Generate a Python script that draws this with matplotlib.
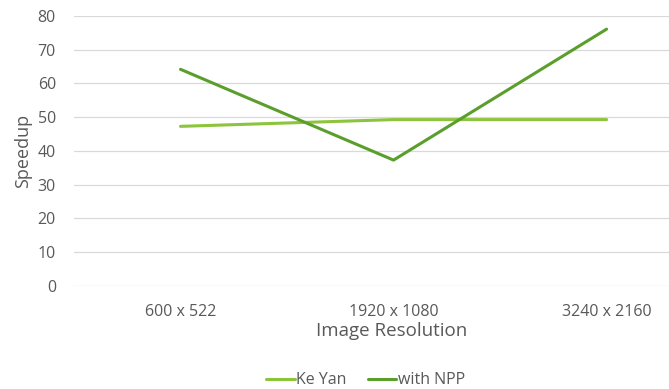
import matplotlib.pyplot as plt

plt.rcParams['font.family'] = ['Open Sans', 'DejaVu Sans']

resolutions = ["600 x 522", "1920 x 1080", "3240 x 2160"]
ke_yan = [47.3, 49.3, 49.3]
with_npp = [64.2, 37.3, 76.1]

fig = plt.figure(figsize=(6.69, 3.89), dpi=100)
ax = fig.add_axes([0.1106, 0.2648, 0.8894, 0.6941])

x = range(len(resolutions))
ax.plot(x, ke_yan, color="#8cc43c", lw=2.2, label="Ke Yan", solid_capstyle="round")
ax.plot(x, with_npp, color="#5a9e2c", lw=2.2, label="with NPP", solid_capstyle="round")

ax.set_xlim(-0.5, 2.293)
ax.set_ylim(0, 80)
ax.set_yticks(range(0, 81, 10))
ax.set_xticks(list(x))
ax.set_xticklabels(resolutions)
ax.grid(axis="y", color="#d9d9d9", lw=0.9)
ax.set_axisbelow(True)
for s in ax.spines.values():
    s.set_visible(False)
ax.tick_params(length=0, colors="#595959", labelsize=11.5)
ax.tick_params(axis="y", pad=13)
ax.tick_params(axis="x", pad=13)

ax.set_ylabel("Speedup", color="#595959", fontsize=13, labelpad=4)
ax.set_xlabel("Image Resolution", color="#595959", fontsize=13.5)
ax.xaxis.set_label_coords(0.534, -0.135)

leg = ax.legend(loc="center", bbox_to_anchor=(0.49, -0.35), ncol=2, frameon=False,
                handlelength=1.8, handletextpad=0.1, columnspacing=1.3, fontsize=11.5)
for t in leg.get_texts():
    t.set_color("#595959")

fig.savefig("out.png", dpi=100)
